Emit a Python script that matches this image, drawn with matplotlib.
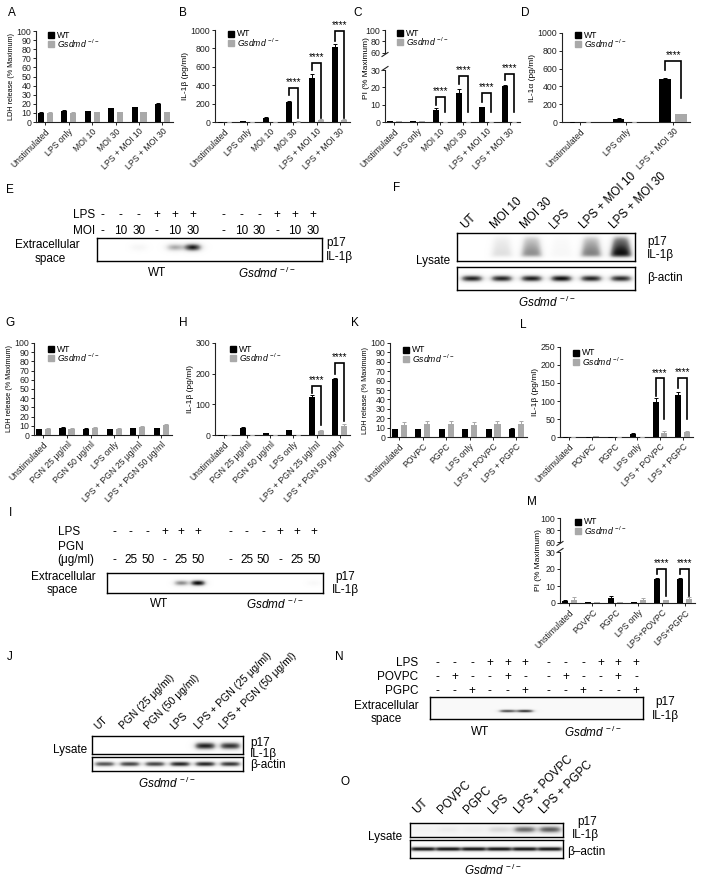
import numpy as np
import matplotlib
matplotlib.use('Agg')
import matplotlib.pyplot as plt
from matplotlib.patches import Rectangle
from matplotlib.lines import Line2D

plt.rcParams['font.family'] = ['Liberation Sans', 'DejaVu Sans']
plt.rcParams['mathtext.fontset'] = 'custom'
plt.rcParams['mathtext.rm'] = 'Liberation Sans'
plt.rcParams['mathtext.it'] = 'Liberation Sans:italic'

# ---------------- DATA ----------------
GSD = r'$\mathit{Gsdmd}^{\,-/-}$'

cats_moi = ['Unstimulated', 'LPS only', 'MOI 10', 'MOI 30', 'LPS + MOI 10', 'LPS + MOI 30']
cats_D = ['Unstimulated', 'LPS only', 'LPS + MOI 30']
cats_pgn = ['Unstimulated', 'PGN 25 \u03bcg/ml', 'PGN 50 \u03bcg/ml', 'LPS only',
            'LPS + PGN 25 \u03bcg/ml', 'LPS + PGN 50 \u03bcg/ml']
cats_ox = ['Unstimulated', 'POVPC', 'PGPC', 'LPS only', 'LPS + POVPC', 'LPS + PGPC']
cats_M = ['Unstimulated', 'POVPC', 'PGPC', 'LPS only', 'LPS+POVPC', 'LPS+PGPC']

A_wt = [10, 12.5, 12, 15, 16, 20]
A_ko = [10, 10, 10.5, 10.5, 10.5, 10.5]
A_wt_err = [0.5, 0.5, 0.5, 0.6, 0.5, 0.6]
A_ko_err = [0.5, 0.5, 0.5, 0.4, 0.4, 0.5]

B_wt = [0, 8, 45, 220, 480, 815]
B_ko = [0, 3, 3, 5, 20, 25]
B_wt_err = [0, 2, 5, 10, 45, 35]
B_ko_err = [0, 1, 1, 2, 10, 5]

C_wt = [0.3, 0.3, 7, 16.5, 8.5, 20.5]
C_ko = [0.3, 0.5, 0.2, 0.2, 0.2, 0.2]
C_wt_err = [0, 0, 1, 2.5, 0.3, 0.8]
C_ko_err = [0, 0, 0, 0, 0, 0]

D_wt = [0, 35, 485]
D_ko = [0, 0, 85]
D_wt_err = [0, 8, 8]
D_ko_err = [0, 0, 8]

G_wt = [6.5, 8, 7, 6, 7.5, 7.5]
G_ko = [7, 7, 8, 7, 9, 11]
G_wt_err = [0.3, 0.4, 0.4, 0.3, 0.4, 0.4]
G_ko_err = [0.4, 0.4, 0.8, 0.5, 0.5, 0.8]

H_wt = [0, 22, 5, 15, 125, 182]
H_ko = [0, 1, 1, 1, 13, 28]
H_wt_err = [0, 5, 2, 2, 4, 5]
H_ko_err = [0, 0, 0, 0, 4, 8]

K_wt = [8.5, 8.5, 8.5, 8, 8.5, 9]
K_ko = [12.5, 13.5, 14, 12.5, 13.5, 14]
K_wt_err = [0.3, 0.3, 0.3, 0.3, 0.3, 0.3]
K_ko_err = [3.5, 3.5, 3.2, 3.5, 3.5, 3.2]

L_wt = [0.5, 0.5, 1, 8, 98, 117]
L_ko = [0.5, 2, 1, 1, 12, 15]
L_wt_err = [0, 0, 0, 4, 9, 8]
L_ko_err = [0, 1, 0, 0, 6, 2]

M_wt = [1, 0.5, 3, 0.5, 14, 14]
M_ko = [2, 0.5, 0.5, 2, 1.5, 2.5]
M_wt_err = [0.5, 0.2, 1.2, 0.2, 0.8, 0.8]
M_ko_err = [1.5, 0.2, 0.2, 1.0, 0.5, 0.8]

# blots
E_lps = ['-', '-', '-', '+', '+', '+', '-', '-', '-', '+', '+', '+']
E_moi = ['-', '10', '30', '-', '10', '30', '-', '10', '30', '-', '10', '30']
E_p17 = [0, 0, 0.08, 0, 0.45, 0.95, 0, 0, 0, 0, 0, 0]

F_lanes = ['UT', 'MOI 10', 'MOI 30', 'LPS', 'LPS + MOI 10', 'LPS + MOI 30']
F_p17 = [0, 0.22, 0.55, 0.07, 0.6, 1.0]
F_actin = [0.9, 0.9, 0.92, 0.97, 0.9, 0.88]

I_lps = ['-', '-', '-', '+', '+', '+', '-', '-', '-', '+', '+', '+']
I_pgn = ['-', '25', '50', '-', '25', '50', '-', '25', '50', '-', '25', '50']
I_p17 = [0, 0, 0, 0, 0.55, 1.0, 0, 0, 0, 0, 0, 0.05]

J_lanes = ['UT', 'PGN (25 \u03bcg/ml)', 'PGN (50 \u03bcg/ml)', 'LPS',
           'LPS + PGN (25 \u03bcg/ml)', 'LPS + PGN (50 \u03bcg/ml)']
J_p17 = [0, 0, 0, 0, 0.9, 0.85]
J_actin = [0.75, 0.8, 0.8, 0.9, 0.9, 0.85]

N_lps = ['-', '-', '-', '+', '+', '+', '-', '-', '-', '+', '+', '+']
N_povpc = ['-', '+', '-', '-', '+', '-', '-', '+', '-', '-', '+', '-']
N_pgpc = ['-', '-', '+', '-', '-', '+', '-', '-', '+', '-', '-', '+']
N_p17 = [0, 0, 0, 0, 0.75, 0.85, 0, 0, 0, 0, 0, 0]

O_lanes = ['UT', 'POVPC', 'PGPC', 'LPS', 'LPS + POVPC', 'LPS + PGPC']
O_p17 = [0.03, 0.08, 0.06, 0.18, 0.6, 0.65]
O_actin = [0.92, 0.92, 0.92, 0.92, 0.92, 0.92]

# ---------------- LAYOUT HELPERS ----------------
W, H = 704, 883
fig = plt.figure(figsize=(W / 100, H / 100), dpi=100)
WT_C = 'black'
KO_C = '#a9a9a9'
AX_C = '#222222'


def px_ax(x0, y0, x1, y1):
    return fig.add_axes([x0 / W, 1 - y1 / H, (x1 - x0) / W, (y1 - y0) / H])


def T(x, y, s, **kw):
    kw.setdefault('ha', 'center')
    kw.setdefault('va', 'center')
    return fig.text(x / W, 1 - y / H, s, **kw)


def style_ax(ax):
    for s in ['top', 'right']:
        ax.spines[s].set_visible(False)
    for s in ['left', 'bottom']:
        ax.spines[s].set_linewidth(0.8)
        ax.spines[s].set_color(AX_C)
    ax.tick_params(direction='out', length=2.5, width=0.7, labelsize=6.3, pad=1, colors=AX_C)


def draw_bars(ax, wt, ko, wte, koe, width, off):
    n = len(wt)
    x = np.arange(n)
    ax.bar(x - off, wt, width, color=WT_C, yerr=[np.zeros(n), wte],
           error_kw=dict(ecolor=WT_C, elinewidth=0.7, capsize=1.5, capthick=0.7), zorder=3)
    ax.bar(x + off, ko, width, color=KO_C, yerr=[np.zeros(n), koe],
           error_kw=dict(ecolor=KO_C, elinewidth=0.7, capsize=1.5, capthick=0.7), zorder=3)


def bracket(ax, i, top, lb, rb, off):
    ax.plot([i - off, i - off, i + off, i + off], [lb, top, top, rb], color='black',
            lw=1.2, clip_on=False, zorder=4, solid_joinstyle='miter')
    ax.annotate('****', xy=(i, top), xytext=(0, 0.5), textcoords='offset points',
                ha='center', va='bottom', fontsize=7, annotation_clip=False)


def legend_px(x, y, dy=9, size=6.2):
    for k, (c, lab) in enumerate([(WT_C, 'WT'), (KO_C, GSD)]):
        yy = y + k * dy
        fig.add_artist(Rectangle((x / W, 1 - (yy + 3) / H), 6 / W, 6 / H,
                                 transform=fig.transFigure, color=c))
        T(x + 9, yy, lab, fontsize=size, ha='left')


def bar_panel(box, cats, wt, ko, wte, koe, ylim, yticks, ylabel, ylsize=6.0,
              xlim=(-0.4, 5.45), width=0.26, off=0.19, brackets=()):
    ax = px_ax(*box)
    style_ax(ax)
    draw_bars(ax, wt, ko, wte, koe, width, off)
    ax.set_xlim(xlim)
    ax.set_ylim(ylim)
    ax.set_yticks(yticks)
    ax.set_xticks(range(len(cats)))
    ax.set_xticklabels(cats, rotation=45, ha='right', rotation_mode='anchor', fontsize=6.2)
    ax.set_ylabel(ylabel, fontsize=ylsize, labelpad=1)
    for b in brackets:
        bracket(ax, *b, off)
    return ax


def broken_panel(box_low, box_high, cats, wt, ko, wte, koe, low_lim, low_ticks,
                 high_lim, high_ticks, xlim=(-0.4, 5.45), width=0.26, off=0.19, brackets=()):
    lo = px_ax(*box_low)
    style_ax(lo)
    draw_bars(lo, wt, ko, wte, koe, width, off)
    lo.set_xlim(xlim)
    lo.set_ylim(low_lim)
    lo.set_yticks(low_ticks)
    lo.set_xticks(range(len(cats)))
    lo.set_xticklabels(cats, rotation=45, ha='right', rotation_mode='anchor', fontsize=6.2)
    for b in brackets:
        bracket(lo, *b, off)
    hi = px_ax(*box_high)
    style_ax(hi)
    hi.spines['bottom'].set_visible(False)
    draw_bars(hi, wt, ko, wte, koe, width, off)
    hi.set_xlim(xlim)
    hi.set_ylim(high_lim)
    hi.set_yticks(high_ticks)
    hi.set_xticks([])
    # break marks
    x = box_low[0]
    for yb in (box_low[1] - 1.5, box_high[3] + 1.5):
        fig.add_artist(Line2D([(x - 3) / W, (x + 3) / W], [1 - (yb + 2) / H, 1 - (yb - 2) / H],
                              transform=fig.transFigure, color=AX_C, lw=0.8))
    return lo, hi


def blot(box, pos, inten, xlim, yc=0.5, bw=0.8, bh=0.3, bg=0.0, soft=0.08, smear=False, lw=1.0):
    ax = px_ax(*box)
    xs = np.linspace(xlim[0], xlim[1], 600)
    ys = np.linspace(0, 1, 100)
    X, Y = np.meshgrid(xs, ys)
    img = np.full(X.shape, float(bg))
    for p, v in zip(pos, inten):
        if smear:
            wid = bw * (0.75 + 0.45 * (1 - Y))
            fx = 1 / (1 + np.exp((np.abs(X - p) - wid / 2) / soft))
            fy = (1 / (1 + np.exp(-(Y - 0.15) / 0.04))) * (1 / (1 + np.exp((Y - 0.85) / 0.05)))
            fy = fy * (0.45 + 0.75 * (1 - Y))
        else:
            fx = 1 / (1 + np.exp((np.abs(X - p) - bw / 2) / soft))
            fy = np.exp(-1.5 * ((Y - yc) / (bh / 2)) ** 2)
        img += v * fx * fy
    img = np.clip(img, 0, 1)
    ax.imshow(img, cmap='Greys', vmin=0, vmax=1, extent=[xlim[0], xlim[1], 0, 1],
              origin='lower', aspect='auto', interpolation='bilinear')
    ax.set_xlim(xlim)
    ax.set_ylim(0, 1)
    ax.set_xticks([])
    ax.set_yticks([])
    for s in ax.spines.values():
        s.set_linewidth(lw)
        s.set_color('black')
    return ax


def lane_text(ax, box, pos, labels, y_px, size=8.5, rot=False, shift=0.0):
    ya = (box[3] - y_px) / (box[3] - box[1])
    for p, s in zip(pos, labels):
        if rot:
            ax.text(p + shift, ya, s, transform=ax.get_xaxis_transform(), rotation=45,
                    ha='left', va='bottom', rotation_mode='anchor', fontsize=size, clip_on=False)
        else:
            ax.text(p, ya, s, transform=ax.get_xaxis_transform(), ha='center', va='center',
                    fontsize=size, clip_on=False)


LET = 8.5
BT = 8.5  # blot text size

# ---------------- ROW 1 ----------------
T(12, 13, 'A', fontsize=LET)
bar_panel((36, 31, 173, 122), cats_moi, A_wt, A_ko, A_wt_err, A_ko_err, (0, 100),
          range(0, 101, 10), 'LDH release (% Maximum)', ylsize=5.2)
legend_px(48, 35)

T(183, 13, 'B', fontsize=LET)
bar_panel((215, 30, 350, 122), cats_moi, B_wt, B_ko, B_wt_err, B_ko_err, (0, 1000),
          range(0, 1001, 200), 'IL-1\u03b2 (pg/ml)',
          brackets=[(3, 370, 290, 40), (4, 640, 560, 40), (5, 990, 880, 40)])
legend_px(228, 34)

T(358, 13, 'C', fontsize=LET)
broken_panel((385, 70, 520, 122), (385, 30, 520, 53), cats_moi, C_wt, C_ko, C_wt_err, C_ko_err,
             (0, 30), [0, 10, 20, 30], (60, 100), [60, 80, 100],
             brackets=[(2, 14.6, 10, 6), (3, 26.5, 22, 6), (4, 17, 11.5, 6), (5, 27.7, 24, 6)])
T(366, 68, 'PI (% Maximum)', fontsize=6.0, rotation=90)
legend_px(397, 33)

T(525, 13, 'D', fontsize=LET)
bar_panel((562, 33, 690, 122), cats_D, D_wt, D_ko, D_wt_err, D_ko_err, (0, 1000),
          range(0, 1001, 200), 'IL-1\u03b1 (pg/ml)', xlim=(-0.38, 2.36), width=0.25, off=0.17,
          brackets=[(2, 685, 585, 270)])
legend_px(575, 35)

# ---------------- E ----------------
T(10, 190, 'E', fontsize=LET)
E_box = (97, 238, 322, 261)
E_pos = [i + 0.7 * (i >= 6) for i in range(12)]
axE = blot(E_box, E_pos, E_p17, (-0.33, 12.2), yc=0.57, bw=0.8, bh=0.38, soft=0.12)
lane_text(axE, E_box, E_pos, E_lps, 215)
lane_text(axE, E_box, E_pos, E_moi, 231)
T(95, 215, 'LPS', fontsize=BT, ha='right')
T(95, 231, 'MOI', fontsize=BT, ha='right')
T(47, 245, 'Extracellular', fontsize=BT)
T(50, 259, 'space', fontsize=BT)
T(157, 273, 'WT', fontsize=BT)
T(267, 273, GSD, fontsize=BT)
T(326, 243, 'p17', fontsize=BT, ha='left')
T(326, 257, 'IL-1\u03b2', fontsize=BT, ha='left')

# ---------------- F ----------------
T(397, 188, 'F', fontsize=LET)
F_box1 = (457, 233, 635, 261)
F_box2 = (457, 267, 635, 290)
F_pos = list(range(6))
axF1 = blot(F_box1, F_pos, F_p17, (-0.5, 5.5), bw=0.62, soft=0.06, smear=True)
axF2 = blot(F_box2, F_pos, F_actin, (-0.5, 5.5), yc=0.5, bw=0.65, bh=0.35, soft=0.07)
lane_text(axF1, F_box1, F_pos, F_lanes, 231, rot=True, shift=-0.15)
T(450, 261, 'Lysate', fontsize=BT, ha='right')
T(647, 242, 'p17', fontsize=BT, ha='left')
T(647, 255, 'IL-1\u03b2', fontsize=BT, ha='left')
T(647, 278, '\u03b2-actin', fontsize=BT, ha='left')
T(547, 302, GSD, fontsize=BT)

# ---------------- ROW 2 ----------------
T(10, 323, 'G', fontsize=LET)
bar_panel((34, 343, 172, 435), cats_pgn, G_wt, G_ko, G_wt_err, G_ko_err, (0, 100),
          range(0, 101, 10), 'LDH release (% Maximum)', ylsize=5.2)
legend_px(48, 349)

T(183, 323, 'H', fontsize=LET)
bar_panel((215, 343, 350, 435), cats_pgn, H_wt, H_ko, H_wt_err, H_ko_err, (0, 300),
          range(0, 301, 100), 'IL-1\u03b2 (pg/ml)',
          brackets=[(4, 160, 137, 33), (5, 236, 200, 45)])
legend_px(230, 349)

T(355, 323, 'K', fontsize=LET)
bar_panel((390, 343, 527, 437), cats_ox, K_wt, K_ko, K_wt_err, K_ko_err, (0, 100),
          range(0, 101, 10), 'LDH release (% Maximum)', ylsize=5.2)
legend_px(403, 350)

T(523, 325, 'L', fontsize=LET)
bar_panel((560, 347, 693, 437), cats_ox, L_wt, L_ko, L_wt_err, L_ko_err, (0, 250),
          range(0, 251, 50), 'IL-1\u03b2 (pg/ml)',
          brackets=[(4, 163, 115, 50), (5, 165, 135, 50)])
legend_px(573, 353)

# ---------------- I ----------------
T(10, 513, 'I', fontsize=LET)
I_box = (107, 573, 323, 593)
I_pos = [i + 0.9 * (i >= 6) for i in range(12)]
axI = blot(I_box, I_pos, I_p17, (-0.42, 12.44), yc=0.5, bw=0.75, bh=0.35, soft=0.1)
lane_text(axI, I_box, I_pos, I_lps, 532)
lane_text(axI, I_box, I_pos, I_pgn, 560)
T(58, 532, 'LPS', fontsize=BT, ha='left')
T(58, 547, 'PGN', fontsize=BT, ha='left')
T(57, 560, '(\u03bcg/ml)', fontsize=BT, ha='left')
T(63, 577, 'Extracellular', fontsize=BT)
T(62, 590, 'space', fontsize=BT)
T(159, 604, 'WT', fontsize=BT)
T(275, 604, GSD, fontsize=BT)
T(345, 577, 'p17', fontsize=BT)
T(345, 590, 'IL-1\u03b2', fontsize=BT)

# ---------------- M ----------------
T(532, 502, 'M', fontsize=LET)
broken_panel((560, 552, 695, 603), (560, 518, 695, 542), cats_M, M_wt, M_ko, M_wt_err, M_ko_err,
             (0, 30), [0, 10, 20, 30], (60, 100), [60, 80, 100],
             brackets=[(4, 20, 17, 4), (5, 20, 17, 4)])
T(538, 560, 'PI (% Maximum)', fontsize=6.0, rotation=90)
legend_px(575, 522)

# ---------------- J ----------------
T(10, 657, 'J', fontsize=LET)
J_box1 = (92, 736, 243, 754)
J_box2 = (92, 757, 243, 771)
J_pos = list(range(6))
axJ1 = blot(J_box1, J_pos, J_p17, (-0.5, 5.5), yc=0.45, bw=0.75, bh=0.5, soft=0.07)
axJ2 = blot(J_box2, J_pos, J_actin, (-0.5, 5.5), yc=0.5, bw=0.75, bh=0.45, soft=0.07)
lane_text(axJ1, J_box1, J_pos, J_lanes, 731, size=7.5, rot=True, shift=-0.2)
T(87, 750, 'Lysate', fontsize=BT, ha='right')
T(250, 743, 'p17', fontsize=BT, ha='left')
T(250, 754, 'IL-1\u03b2', fontsize=BT, ha='left')
T(250, 765, '\u03b2-actin', fontsize=BT, ha='left')
T(167, 783, GSD, fontsize=BT)

# ---------------- N ----------------
T(339, 657, 'N', fontsize=LET)
N_box = (430, 697, 643, 719)
N_pos = [i + 0.3 * (i >= 6) for i in range(12)]
axN = blot(N_box, N_pos, N_p17, (-0.4, 11.7), yc=0.36, bw=0.85, bh=0.16, bg=0.05, soft=0.1)
lane_text(axN, N_box, N_pos, N_lps, 663)
lane_text(axN, N_box, N_pos, N_povpc, 677)
lane_text(axN, N_box, N_pos, N_pgpc, 691)
T(418, 663, 'LPS', fontsize=BT, ha='right')
T(418, 677, 'POVPC', fontsize=BT, ha='right')
T(418, 691, 'PGPC', fontsize=BT, ha='right')
T(386, 706, 'Extracellular', fontsize=BT)
T(386, 719, 'space', fontsize=BT)
T(665, 702, 'p17', fontsize=BT)
T(665, 716, 'IL-1\u03b2', fontsize=BT)
T(480, 732, 'WT', fontsize=BT)
T(593, 732, GSD, fontsize=BT)

# ---------------- O ----------------
T(345, 782, 'O', fontsize=LET)
O_box1 = (410, 823, 563, 837)
O_box2 = (410, 840, 563, 858)
O_pos = list(range(6))
axO1 = blot(O_box1, O_pos, O_p17, (-0.5, 5.5), yc=0.5, bw=0.8, bh=0.55, bg=0.07, soft=0.08)
axO2 = blot(O_box2, O_pos, O_actin, (-0.5, 5.5), yc=0.5, bw=0.95, bh=0.3, bg=0.03, soft=0.05)
lane_text(axO1, O_box1, O_pos, O_lanes, 816, rot=True, shift=-0.15)
T(402, 837, 'Lysate', fontsize=BT, ha='right')
T(577, 822, 'p17', fontsize=BT, ha='left')
T(572, 835, 'IL-1\u03b2', fontsize=BT, ha='left')
T(567, 852, '\u03b2\u2013actin', fontsize=BT, ha='left')
T(493, 870, GSD, fontsize=BT)

fig.savefig('out.png', dpi=100)
